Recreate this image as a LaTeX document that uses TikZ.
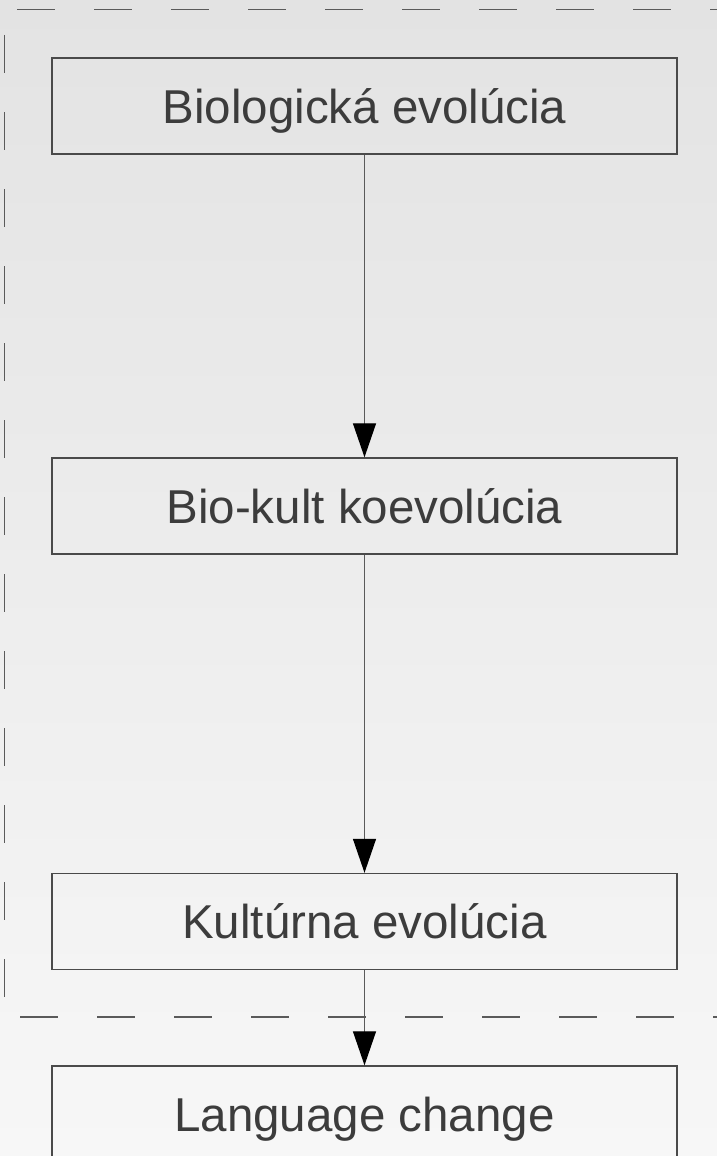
\documentclass[tikz,border=0pt]{standalone}
\usepackage{fontspec}
\setmainfont{Liberation Sans}
\usetikzlibrary{arrows.meta}
\definecolor{bgtop}{HTML}{E3E3E3}
\definecolor{bgbot}{HTML}{F7F7F7}
\definecolor{edge}{HTML}{4A4A4A}
\definecolor{ink}{HTML}{3C3C3C}
\definecolor{dashgray}{HTML}{5A5A5A}
\tikzset{
  stagebox/.style={draw=edge, line width=1.4pt, minimum width=625pt,
    minimum height=96pt, inner sep=0pt, text=ink,
    text height=34pt, text depth=0pt,
    font=\fontsize{47.5}{56}\selectfont},
  flow/.style={draw=dashgray, line width=1.3pt,
    -{Triangle[length=34pt,width=23pt,fill=black,color=black]}},
  frame/.style={draw=dashgray, line width=1.4pt, dash pattern=on 38pt off 39pt}
}
\begin{document}
\begin{tikzpicture}[x=1pt,y=-1pt]
  \useasboundingbox (0,0) rectangle (717,1156);
  \clip (0,0) rectangle (717,1156);
  \shade[top color=bgtop, bottom color=bgbot] (0,0) rectangle (717,1156);

  % dashed region boundary (open on the right)
  \draw[frame] (17,9.5) -- (717,9.5);
  \draw[frame] (4.5,35) -- (4.5,1000);
  \draw[frame] (20,1017) -- (717,1017);

  % stages
  \node[stagebox] (bio)  at (364.5,106)  {Biologická evolúcia};
  \node[stagebox] (coev) at (364.5,506)  {Bio-kult koevolúcia};
  \node[stagebox] (kult) at (364.5,921.5) {Kultúrna evolúcia};
  \node[stagebox] (lang) at (364.5,1114) {Language change};

  % connectors
  \draw[flow] (bio.south)  -- (coev.north);
  \draw[flow] (coev.south) -- (kult.north);
  \draw[flow] (kult.south) -- (lang.north);
\end{tikzpicture}
\end{document}
